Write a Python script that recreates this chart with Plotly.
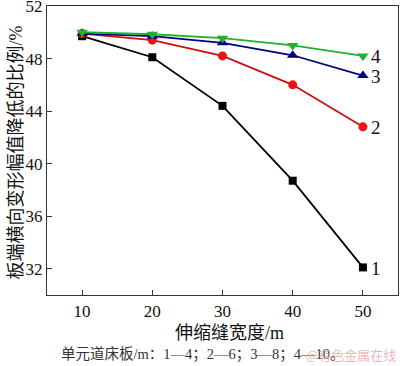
import plotly.graph_objects as go

widths = [10, 20, 30, 40, 50]
s1 = [49.7, 48.1, 44.4, 38.7, 32.1]
s2 = [49.9, 49.4, 48.2, 46.0, 42.8]
s3 = [49.9, 49.7, 49.2, 48.25, 46.7]
s4 = [50.0, 49.85, 49.55, 49.0, 48.2]
labels = ["1", "2", "3", "4"]
y_ticks = [32, 36, 40, 44, 48, 52]

series = [
    (s1, "#000000", "#000000", "square", 8),
    (s2, "#cc1010", "#ee1111", "circle", 9),
    (s3, "#000080", "#000080", "triangle-up", 10),
    (s4, "#22b030", "#22b030", "triangle-down", 10),
]

SERIF = "Liberation Serif, Noto Sans CJK SC, serif"

fig = go.Figure()
for (vals, lc, mc, sym, sz), lab in zip(series, labels):
    fig.add_trace(go.Scatter(
        x=widths, y=vals, mode="lines+markers",
        line=dict(color=lc, width=1.8),
        marker=dict(symbol=sym, size=sz, color=mc),
        showlegend=False,
    ))
    fig.add_annotation(x=widths[-1], y=vals[-1], text=lab, showarrow=False,
                       xanchor="left", xshift=6, yshift=-1,
                       font=dict(family=SERIF, size=19, color="#111"))

# plot area: x 47..398 (351 px), y 6..295 (289 px)
fig.add_annotation(xref="paper", yref="paper", x=0.5 + 7 / 351, y=-38 / 289,
                   text="伸缩缝宽度/m", showarrow=False,
                   xanchor="center", yanchor="middle",
                   font=dict(family=SERIF, size=18, color="#111"))
fig.add_annotation(xref="paper", yref="paper", x=-32 / 351, y=0.5 - 2 / 289,
                   text="板端横向变形幅值降低的比例/%", showarrow=False, textangle=-90,
                   xanchor="center", yanchor="middle",
                   font=dict(family=SERIF, size=18, color="#111"))
fig.add_annotation(xref="paper", yref="paper", x=12 / 351, y=-59 / 289,
                   text="单元道床板/m：1—4；2—6；3—8；4—10。", showarrow=False,
                   xanchor="left", yanchor="middle",
                   font=dict(family=SERIF, size=14.5, color="#333"))
fig.add_annotation(xref="paper", yref="paper", x=1.0, y=-59 / 289,
                   text="@有色金属在线", showarrow=False,
                   xanchor="right", yanchor="middle",
                   font=dict(family="Noto Sans CJK SC", size=13, color="rgba(225,150,150,0.7)"))

axis_common = dict(showline=True, linecolor="#333", linewidth=1.2, mirror=True,
                   ticks="inside", ticklen=5, tickcolor="#333", showgrid=False,
                   zeroline=False, automargin=False, ticklabeloverflow="allow",
                   tickfont=dict(family=SERIF, size=17, color="#111"))

fig.update_xaxes(range=[5, 55], tickvals=widths, **axis_common)
fig.update_yaxes(range=[30, 52], tickvals=y_ticks, **axis_common)

fig.update_layout(width=400, height=366, margin=dict(l=47, r=2, t=6, b=71),
                  plot_bgcolor="white", paper_bgcolor="white")

fig.write_html("out.html", config={"displayModeBar": False},
               post_script="document.body.style.margin='0';document.body.style.overflow='hidden';")
